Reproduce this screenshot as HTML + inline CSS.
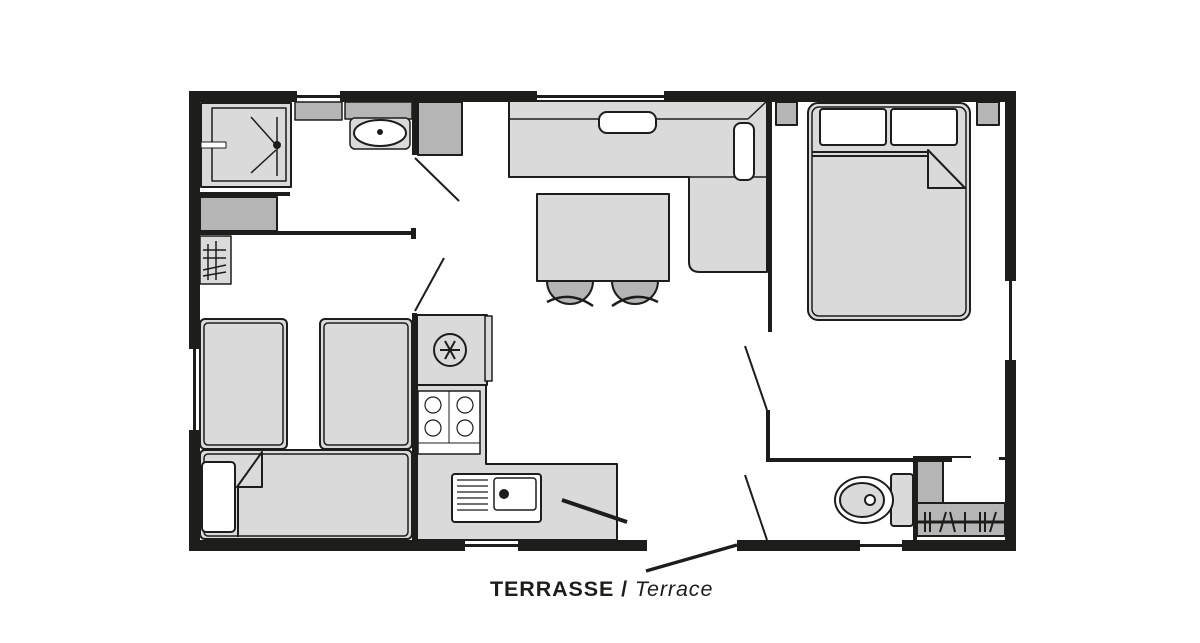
<!DOCTYPE html>
<html><head><meta charset="utf-8"><style>
html,body{margin:0;padding:0;background:#fff;width:1200px;height:643px;overflow:hidden}
svg{display:block}
</style></head><body>
<svg width="1200" height="643" viewBox="0 0 1200 643" xmlns="http://www.w3.org/2000/svg">
<g stroke="#1d1d1b" stroke-width="2" fill="#dadada" stroke-linejoin="round">
<!-- shower -->
<rect x="201" y="103" width="90" height="84" fill="#dadada"/>
<rect x="212" y="108" width="74" height="73" fill="#dadada" stroke-width="1.5"/>
<line x1="251" y1="117" x2="276" y2="145" stroke-width="1.5"/>
<line x1="251" y1="173" x2="276" y2="150" stroke-width="1.5"/>
<line x1="277" y1="117" x2="277" y2="176" stroke-width="1.5"/>
<circle cx="277" cy="145" r="3" fill="#1d1d1b"/>
<rect x="201" y="142" width="25" height="6" fill="#fff" stroke-width="1"/>
<!-- gray blocks -->
<rect x="200" y="197" width="77" height="34" fill="#b5b5b5"/>
<rect x="200" y="236" width="31" height="48" fill="#dadada" stroke-width="1.5"/>
<g stroke-width="1.5"><line x1="208" y1="244" x2="208" y2="280"/><line x1="216" y1="241" x2="216" y2="280"/><line x1="203" y1="250" x2="226" y2="250"/><line x1="203" y1="258" x2="226" y2="258"/><line x1="203" y1="270" x2="226" y2="265"/><line x1="203" y1="276" x2="226" y2="272"/></g>
<rect x="295" y="102" width="47" height="18" fill="#b5b5b5" stroke-width="1.5"/>
<rect x="345" y="102" width="67" height="17" fill="#b5b5b5" stroke-width="1.5"/>
<rect x="350" y="118" width="60" height="31" rx="5" fill="#dadada" stroke-width="1.5"/>
<ellipse cx="380" cy="133" rx="26" ry="13" fill="#fff"/>
<circle cx="380" cy="132" r="2" fill="#1d1d1b"/>
<rect x="418" y="102" width="44" height="53" fill="#b5b5b5"/>
<!-- benches/beds left -->
<rect x="200" y="319" width="87" height="130" rx="5"/>
<rect x="204" y="323" width="79" height="122" rx="4" stroke-width="1.5"/>
<rect x="320" y="319" width="92" height="130" rx="5"/>
<rect x="324" y="323" width="84" height="122" rx="4" stroke-width="1.5"/>
<rect x="200" y="450" width="212" height="89" rx="5"/>
<rect x="204" y="454" width="204" height="82" rx="4" stroke-width="1.5"/>
<rect x="202" y="462" width="33" height="70" rx="4" fill="#fff"/>
<path d="M237 487 L262 487 L262 452 Z" fill="#dadada"/>
<line x1="238" y1="487" x2="238" y2="537"/>
<!-- kitchen -->
<path d="M417 385 L486 385 L486 464 L617 464 L617 540 L417 540 Z"/>
<rect x="417" y="315" width="70" height="70"/>
<rect x="485" y="316" width="7" height="65" fill="#dadada" stroke-width="1.5"/>
<circle cx="450" cy="350" r="16" fill="#dadada"/>
<g stroke-width="2"><line x1="440" y1="350" x2="460" y2="350"/><line x1="445" y1="341" x2="455" y2="359"/><line x1="455" y1="341" x2="445" y2="359"/></g>
<rect x="418" y="391" width="62" height="63" fill="#fff" stroke-width="1.5"/>
<line x1="449" y1="391" x2="449" y2="443" stroke-width="1"/>
<line x1="418" y1="443" x2="480" y2="443" stroke-width="1"/>
<g stroke-width="1.2" fill="none"><circle cx="433" cy="405" r="8"/><circle cx="465" cy="405" r="8"/><circle cx="433" cy="428" r="8"/><circle cx="465" cy="428" r="8"/></g>
<rect x="452" y="474" width="89" height="48" rx="3" fill="#fff"/>
<rect x="494" y="478" width="42" height="32" rx="3" fill="#fff" stroke-width="1.5"/>
<circle cx="504" cy="494" r="4" fill="#1d1d1b"/>
<g stroke-width="1.2"><line x1="457" y1="480" x2="488" y2="480"/><line x1="457" y1="486" x2="488" y2="486"/><line x1="457" y1="492" x2="488" y2="492"/><line x1="457" y1="498" x2="488" y2="498"/><line x1="457" y1="504" x2="488" y2="504"/><line x1="457" y1="510" x2="488" y2="510"/></g>
<line x1="562" y1="500" x2="627" y2="522" stroke-width="4"/>
<!-- dining -->
<path d="M509 101 L767 101 L767 272 L700 272 Q689 272 689 262 L689 177 L509 177 Z"/>
<line x1="509" y1="119" x2="748" y2="119" stroke-width="1.5"/>
<line x1="748" y1="119" x2="767" y2="101" stroke-width="1.5"/>
<line x1="689" y1="177" x2="767" y2="177" stroke-width="1.5"/>
<rect x="599" y="112" width="57" height="21" rx="8" fill="#fff"/>
<rect x="734" y="123" width="20" height="57" rx="7" fill="#fff"/>
<path d="M547 281 A23 23 0 0 0 593 281 Z" fill="#b5b5b5"/>
<path d="M612 281 A23 23 0 0 0 658 281 Z" fill="#b5b5b5"/>
<rect x="537" y="194" width="132" height="87" fill="#dadada"/>
<path d="M547 302 Q570 290 593 306" fill="none" stroke-width="2.5"/>
<path d="M612 306 Q635 290 658 302" fill="none" stroke-width="2.5"/>
<!-- bedroom -->
<rect x="776" y="102" width="21" height="23" fill="#b5b5b5"/>
<rect x="977" y="102" width="22" height="23" fill="#b5b5b5"/>
<rect x="808" y="103" width="162" height="217" rx="10" fill="#dadada"/>
<rect x="812" y="107" width="154" height="209" rx="7" stroke-width="1.5"/>
<rect x="820" y="109" width="66" height="36" rx="3" fill="#fff"/>
<rect x="891" y="109" width="66" height="36" rx="3" fill="#fff"/>
<line x1="812" y1="152" x2="928" y2="152"/>
<line x1="812" y1="156" x2="928" y2="156"/>
<path d="M928 150 L928 188 L965 188 Z" fill="#dadada"/>
<!-- WC -->
<rect x="917" y="461" width="26" height="42" fill="#b5b5b5"/>
<rect x="917" y="503" width="88" height="33" fill="#b5b5b5"/>
<line x1="917" y1="522" x2="1005" y2="522" stroke-width="3"/>
<g stroke-width="2"><line x1="925" y1="512" x2="925" y2="532"/><line x1="930" y1="512" x2="930" y2="532"/><line x1="940" y1="532" x2="946" y2="512"/><line x1="950" y1="512" x2="955" y2="532"/><line x1="965" y1="512" x2="965" y2="532"/><line x1="980" y1="512" x2="980" y2="532"/><line x1="985" y1="512" x2="985" y2="532"/><line x1="990" y1="532" x2="996" y2="512"/></g>
<rect x="891" y="474" width="22" height="52" rx="3"/>
<ellipse cx="864" cy="500" rx="29" ry="23" fill="#fff"/>
<ellipse cx="862" cy="500" rx="22" ry="17" fill="#dadada"/>
<circle cx="870" cy="500" r="5" fill="#fff"/>
</g>
<!-- walls -->
<g fill="#1d1d1b">
<rect x="189" y="91" width="108" height="11"/>
<rect x="340" y="91" width="197" height="11"/>
<rect x="664" y="91" width="351" height="11"/>
<rect x="297" y="95" width="43" height="3"/>
<rect x="537" y="95" width="127" height="3"/>
<rect x="189" y="91" width="11" height="258"/>
<rect x="189" y="430" width="11" height="121"/>
<rect x="193" y="349" width="3" height="81"/>
<rect x="1005" y="91" width="11" height="190"/>
<rect x="1005" y="360" width="11" height="191"/>
<rect x="1009" y="281" width="3" height="79"/>
<rect x="189" y="540" width="276" height="11"/>
<rect x="518" y="540" width="129" height="11"/>
<rect x="737" y="540" width="123" height="11"/>
<rect x="902" y="540" width="114" height="11"/>
<rect x="465" y="544" width="53" height="3"/>
<rect x="860" y="544" width="42" height="3"/>
<rect x="412" y="102" width="5" height="53"/>
<rect x="199" y="192" width="91" height="4"/>
<rect x="199" y="231" width="215" height="4"/>
<rect x="411" y="228" width="5" height="11"/>
<rect x="412" y="313" width="5" height="227"/>
<rect x="768" y="102" width="4" height="230"/>
<rect x="766" y="410" width="4" height="52"/>
<rect x="766" y="458" width="186" height="4"/>
<rect x="913" y="460" width="4" height="80"/>
<rect x="913" y="456" width="58" height="2"/>
<rect x="999" y="457" width="6" height="3"/>
</g>
<g stroke="#1d1d1b" stroke-width="2">
<line x1="415" y1="158" x2="459" y2="201"/>
<line x1="444" y1="258" x2="415" y2="311"/>
<line x1="745" y1="346" x2="767" y2="410"/>
<line x1="745" y1="475" x2="767" y2="540"/>
<line x1="646" y1="571" x2="737" y2="545" stroke-width="3.5"/>
</g>
<text x="490" y="596" font-family="Liberation Sans, sans-serif" font-size="21.5" letter-spacing="0.9" fill="#1d1d1b"><tspan font-weight="bold">TERRASSE /</tspan><tspan font-style="italic"> Terrace</tspan></text>
</svg>
</body></html>
